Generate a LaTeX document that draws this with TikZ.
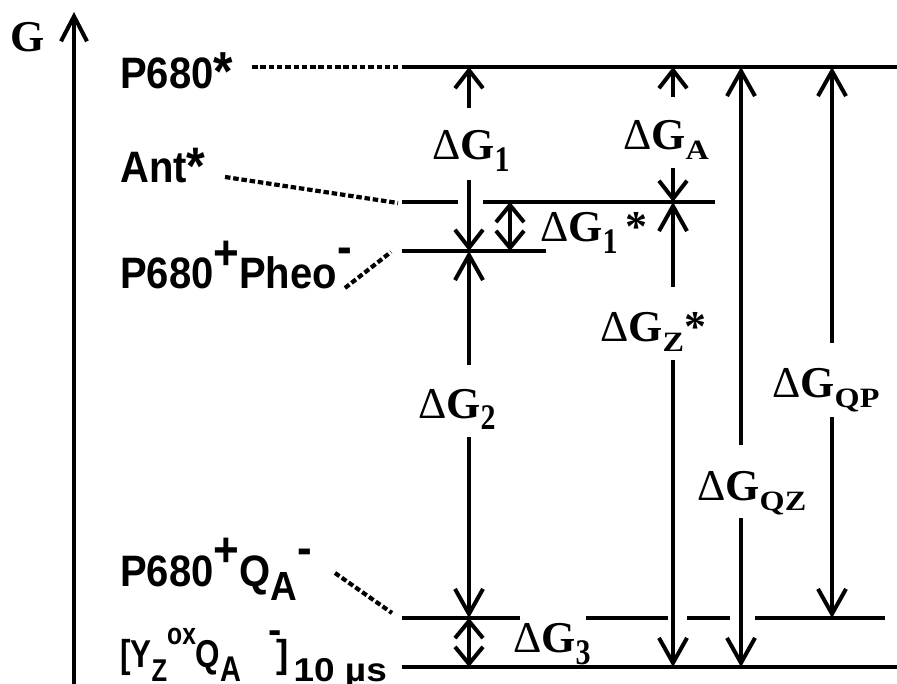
\documentclass[tikz,border=0pt]{standalone}
\usepackage{fontspec}
\setmainfont{Liberation Serif}
\newfontfamily\arialf{Liberation Sans}
\usetikzlibrary{arrows.meta}
\newcommand{\lsize}{\fontsize{40}{40}\selectfont}
\newcommand{\rsize}{\fontsize{44}{44}\selectfont}
\newcommand{\dsub}[1]{\raisebox{-12pt}{\fontsize{30}{30}\selectfont\bfseries\scalebox{1}[1.2]{#1}}}
\newcommand{\lsub}[1]{\raisebox{-10pt}{\fontsize{28}{28}\selectfont\bfseries\scalebox{1.15}[1]{#1}}}
\newcommand{\dG}{{\rsize Δ}{\rsize\bfseries G}}
\newcommand{\ls}[1]{\scalebox{1}[1.1]{#1}}
\begin{document}
\begin{tikzpicture}[x=1pt,y=-1pt,
  lvl/.style={line width=3.2pt},
  dotl/.style={line width=4.2pt, dash pattern=on 5.5pt off 2.8pt},
  shaft/.style={line width=4pt},
  sm/.style={shaft,-{Straight Barb[length=18pt,width=28pt,line width=4pt]}},
  lg/.style={shaft,-{Straight Barb[length=25pt,width=28pt,line width=4pt]}},
  smd/.style={shaft,{Straight Barb[length=17pt,width=28pt,line width=4pt]}-{Straight Barb[length=17pt,width=28pt,line width=4pt]}},
  ltxt/.style={anchor=base west,inner sep=0pt,font=\arialf\bfseries\lsize},
  rtxt/.style={anchor=base west,inner sep=0pt}]
\useasboundingbox (0,0) rectangle (897,684);
% axis
\coordinate (ax0) at (74,684);
\coordinate (ax1) at (74,12);
\draw[line width=4pt,-{Straight Barb[length=25pt,width=26pt,line width=4pt]}] (ax0) -- (ax1);
\node[rtxt] (G) at (10,52) {\rsize\bfseries G};
% level coordinates
\coordinate (P0) at (402,67);  \coordinate (P1) at (897,67);
\coordinate (A0) at (402,202); \coordinate (A1) at (458,202);
\coordinate (A2) at (483,202); \coordinate (A3) at (715,202);
\coordinate (H0) at (402,251); \coordinate (H1) at (546,251);
\coordinate (Q0) at (402,618); \coordinate (Q1) at (520,618);
\coordinate (Q2) at (586,618); \coordinate (Q3) at (668,618);
\coordinate (Q4) at (687,618); \coordinate (Q5) at (730,618);
\coordinate (Q6) at (755,618); \coordinate (Q7) at (885,618);
\coordinate (Y0) at (402,667); \coordinate (Y1) at (897,667);
\draw[lvl] (P0) -- (P1);
\draw[lvl] (A0) -- (A1);
\draw[lvl] (A2) -- (A3);
\draw[lvl] (H0) -- (H1);
\draw[lvl] (Q0) -- (Q1);
\draw[lvl] (Q2) -- (Q3);
\draw[lvl] (Q4) -- (Q5);
\draw[lvl] (Q6) -- (Q7);
\draw[lvl] (Y0) -- (Y1);
% left labels
\node[ltxt] (p680s) at (120,89) {\ls{P680\raisebox{-1pt}{\fontsize{50}{50}\selectfont *}}};
\node[ltxt] (ants) at (120,183) {\ls{Ant\raisebox{-1pt}{\fontsize{48}{48}\selectfont *}}};
\node[ltxt] (pheo) at (120,289) {\ls{P680\raisebox{18pt}{\fontsize{44}{44}\selectfont +}Pheo\raisebox{23pt}{\fontsize{44}{44}\selectfont -}}};
\node[ltxt] (qa) at (120,586) {\ls{P680\raisebox{18pt}{\fontsize{44}{44}\selectfont +}Q\raisebox{-13pt}{\fontsize{37}{37}\selectfont A}\raisebox{20pt}{\fontsize{44}{44}\selectfont -}}};
\node[ltxt] (yz) at (120,667) {\scalebox{0.85}[1.05]{\fontsize{37}{37}\selectfont [Y\raisebox{-14pt}{\fontsize{30}{30}\selectfont Z}\raisebox{21pt}{\fontsize{29}{29}\selectfont ox}Q\raisebox{-14pt}{\fontsize{34}{34}\selectfont A}}\hspace{27pt}\rlap{\raisebox{24pt}{\fontsize{40}{40}\selectfont -}}\hspace{8pt}\scalebox{1}[1.05]{\fontsize{37}{37}\selectfont ]}\hspace{5pt}\raisebox{-14pt}{\scalebox{1.12}[1]{\fontsize{33}{33}\selectfont 10 µs}}};
% dotted connectors
\coordinate (d1a) at (252,67);  \coordinate (d1b) at (398,67);
\coordinate (d2a) at (225,177); \coordinate (d2b) at (398,203);
\coordinate (d3a) at (345,288); \coordinate (d3b) at (391,252);
\coordinate (d4a) at (335,573); \coordinate (d4b) at (392,613);
\draw[dotl] (d1a) -- (d1b);
\draw[dotl] (d2a) -- (d2b);
\draw[dotl] (d3a) -- (d3b);
\draw[dotl] (d4a) -- (d4b);
% column 469
\coordinate (c1a) at (469,108); \coordinate (c1b) at (469,180);
\coordinate (c1P) at (469,67);  \coordinate (c1H) at (469,251);
\coordinate (c2a) at (469,365); \coordinate (c2b) at (469,437);
\coordinate (c1Q) at (469,618); \coordinate (c1Y) at (469,667);
\draw[sm] (c1a) -- (c1P);
\draw[sm] (c1b) -- (c1H);
\draw[lg] (c2a) -- (c1H);
\draw[lg] (c2b) -- (c1Q);
\draw[smd] (c1Q) -- (c1Y);
\node[rtxt] (dg1) at (432,160) {\dG\dsub{1}};
\node[rtxt] (dg2) at (418,418) {\dG\dsub{2}};
\node[rtxt] (dg3) at (513,652) {\dG\dsub{3}};
% column 510
\coordinate (c5A) at (510,202); \coordinate (c5H) at (510,251);
\draw[smd] (c5A) -- (c5H);
\node[rtxt] (dg1s) at (540,242) {\dG\dsub{1}{\rsize\bfseries\,*}};
% column 673
\coordinate (c3a) at (673,97);  \coordinate (c3b) at (673,168);
\coordinate (c3P) at (673,67);  \coordinate (c3A) at (673,202);
\coordinate (c3c) at (673,287); \coordinate (c3d) at (673,360);
\coordinate (c3Y) at (673,667);
\draw[sm] (c3a) -- (c3P);
\draw[sm] (c3b) -- (c3A);
\draw[lg] (c3c) -- (c3A);
\draw[lg] (c3d) -- (c3Y);
\node[rtxt] (dga) at (623,150) {\dG\lsub{A}};
\node[rtxt] (dgz) at (600,342) {\dG\lsub{Z}{\rsize\bfseries *}};
% column 741
\coordinate (c4a) at (741,445); \coordinate (c4b) at (741,518);
\coordinate (c4P) at (741,67);  \coordinate (c4Y) at (741,667);
\draw[lg] (c4a) -- (c4P);
\draw[lg] (c4b) -- (c4Y);
\node[rtxt] (dgqz) at (697,500) {\dG\lsub{QZ}};
% column 832
\coordinate (c6a) at (832,343); \coordinate (c6b) at (832,417);
\coordinate (c6P) at (832,67);  \coordinate (c6Q) at (832,618);
\draw[lg] (c6a) -- (c6P);
\draw[lg] (c6b) -- (c6Q);
\node[rtxt] (dgqp) at (772,398) {\dG\lsub{QP}};
\end{tikzpicture}
\end{document}
